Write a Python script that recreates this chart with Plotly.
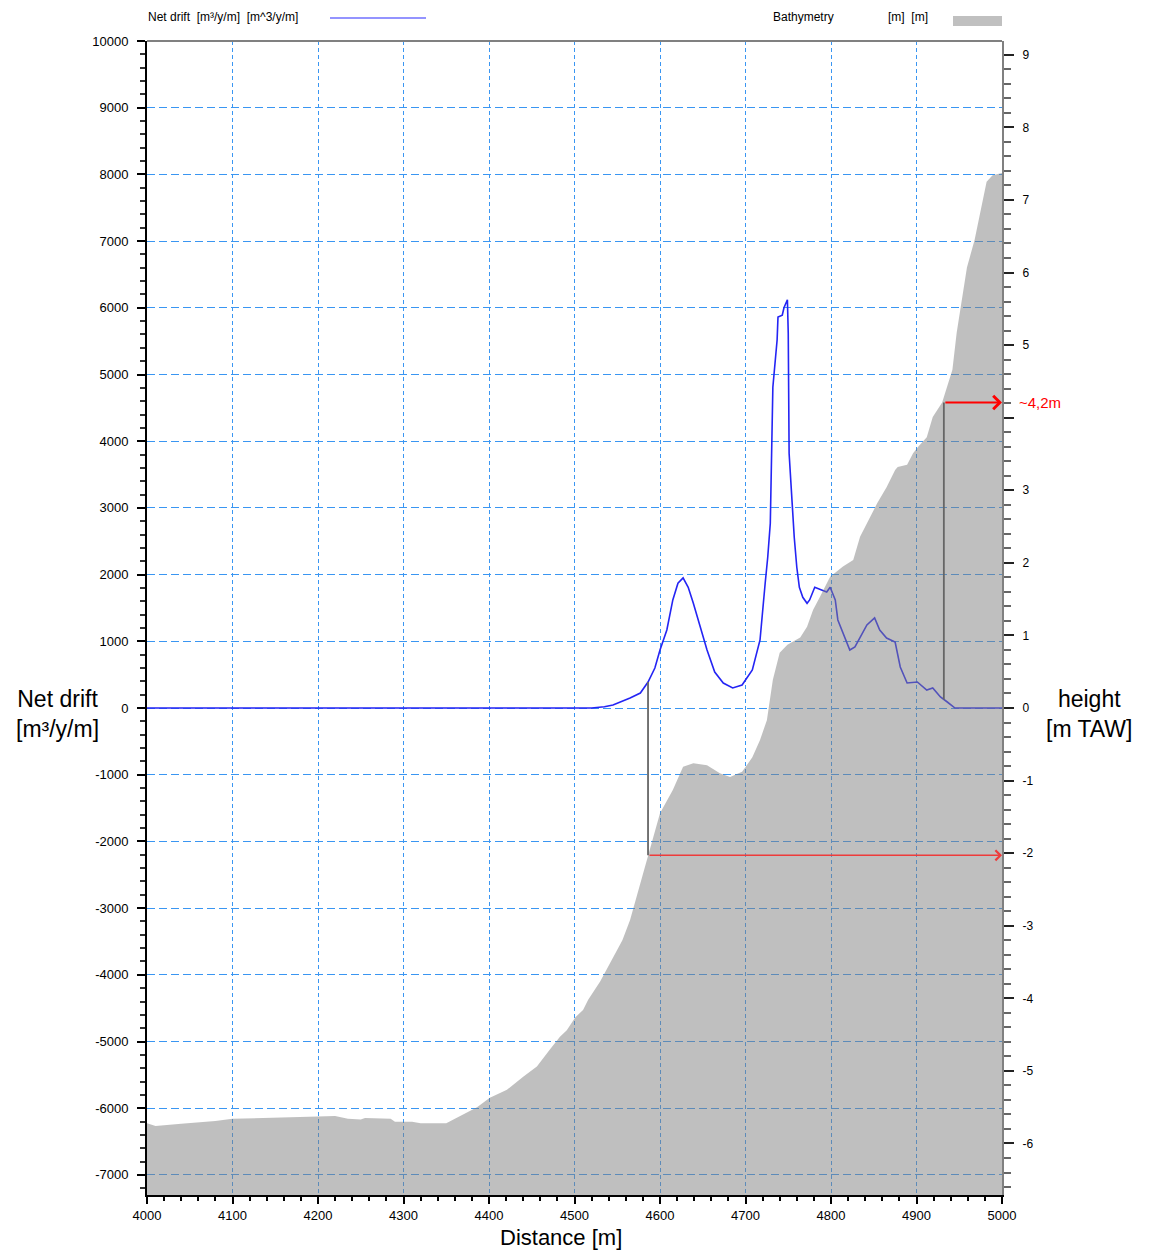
import plotly.graph_objects as go
import numpy as np

# ---------------- data ----------------
bathy_x = [4000, 4010, 4040, 4050, 4080, 4100, 4150, 4200, 4220, 4235,
           4250, 4255, 4285, 4290, 4310, 4320, 4350, 4366, 4386, 4401,
           4421, 4440, 4456, 4471, 4483, 4491, 4501, 4510, 4516, 4530,
           4544, 4556, 4565, 4585, 4600, 4615, 4627, 4639, 4655, 4670,
           4682, 4696, 4708, 4717, 4725, 4732, 4740, 4749, 4764, 4772,
           4779, 4787, 4799, 4814, 4826, 4834, 4846, 4854, 4865, 4875,
           4878, 4889, 4896, 4902, 4912, 4919, 4930, 4942, 4947, 4954,
           4959, 4968, 4978, 4982, 4989, 5000]
bathy_h = [-5.72, -5.76, -5.73, -5.72, -5.69, -5.66, -5.65, -5.63, -5.62, -5.66,
           -5.67, -5.65, -5.66, -5.70, -5.70, -5.72, -5.72, -5.62, -5.50, -5.37,
           -5.26, -5.08, -4.94, -4.71, -4.53, -4.44, -4.26, -4.16, -4.02, -3.77,
           -3.47, -3.20, -2.92, -2.10, -1.45, -1.13, -0.81, -0.76, -0.79, -0.90,
           -0.95, -0.88, -0.68, -0.44, -0.17, 0.39, 0.76, 0.87, 0.97, 1.12,
           1.35, 1.53, 1.81, 1.95, 2.04, 2.36, 2.63, 2.82, 3.04, 3.28,
           3.32, 3.35, 3.51, 3.60, 3.73, 4.01, 4.21, 4.66, 5.17, 5.72,
           6.07, 6.45, 7.00, 7.25, 7.34, 7.37]

drift_x = [4000, 4520, 4535, 4545, 4565, 4577, 4586, 4594, 4600, 4608,
           4615, 4621, 4627, 4633, 4639, 4647, 4655, 4664, 4674, 4685,
           4696, 4708, 4717, 4723, 4726, 4729, 4731, 4732, 4737, 4738,
           4743, 4745, 4749, 4750, 4751, 4754, 4757, 4760, 4763, 4767,
           4772, 4775, 4781, 4789, 4795, 4799, 4805, 4808, 4814, 4822,
           4828, 4834, 4842, 4851, 4857, 4865, 4875, 4881, 4889, 4901,
           4912, 4919, 4928, 4936, 4945, 5000]
drift_v = [0, 0, 20, 45, 150, 225, 390, 600, 870, 1170,
           1620, 1870, 1950, 1810, 1570, 1210, 870, 540, 375, 300,
           345, 570, 1020, 1870, 2260, 2770, 4020, 4810, 5520, 5860,
           5890, 6000, 6120, 5620, 3820, 3120, 2560, 2110, 1810, 1660,
           1570, 1620, 1810, 1770, 1740, 1810, 1620, 1320, 1120, 870,
           915, 1065, 1245, 1350, 1170, 1050, 990, 615, 375, 390,
           270, 300, 165, 90, 0, 0]

# points where drift meets the bathymetry level (marked in the chart)
limit_x = [4586, 4932]
limit_h = [-2.03, 4.21]
limit_label = ["", "~4,2m"]

x_ticks = [4000, 4100, 4200, 4300, 4400, 4500, 4600, 4700, 4800, 4900, 5000]
x_ticktext = [str(v) for v in x_ticks]
drift_ticks = [-7000, -6000, -5000, -4000, -3000, -2000, -1000, 0,
               1000, 2000, 3000, 4000, 5000, 6000, 7000, 8000, 9000, 10000]
drift_ticktext = [str(v) for v in drift_ticks]
height_ticks = [-6, -5, -4, -3, -2, -1, 0, 1, 2, 3, 4, 5, 6, 7, 8, 9]
height_ticktext = ["" if v == 4 else str(v) for v in height_ticks]

# ---------------- layout geometry ----------------
W, H = 1149, 1254
L, R, T, B = 147, 1002, 41, 1195
drift_range = [-7301, 10000]
height_range = [-6.71, 9.19]
h_per_drift = (height_range[1] - height_range[0]) / (drift_range[1] - drift_range[0])


def px_x(px):
    return (px - L) / (R - L)


def px_y(py):
    return (B - py) / (B - T)


FONT = "Liberation Sans, Arial, sans-serif"
GRID = "#3a96f2"

fig = go.Figure()

# bathymetry fill (baseline below the visible range)
floor = height_range[0] - 3
fig.add_trace(go.Scatter(x=bathy_x, y=[floor] * len(bathy_x), yaxis="y2",
                         mode="lines", line=dict(width=0), hoverinfo="skip",
                         showlegend=False))
fig.add_trace(go.Scatter(x=bathy_x, y=bathy_h, yaxis="y2", mode="lines",
                         line=dict(width=0, color="rgba(128,128,128,0.5)"),
                         fill="tonexty", fillcolor="rgba(128,128,128,0.5)",
                         name="Bathymetry", showlegend=False))

# vertical grey marker lines from bathymetry level up to the drift curve
for lx, lh in zip(limit_x, limit_h):
    top = float(np.interp(lx, drift_x, drift_v)) * h_per_drift
    fig.add_trace(go.Scatter(x=[lx, lx], y=[lh, top], yaxis="y2", mode="lines",
                             line=dict(color="#666666", width=1.8),
                             hoverinfo="skip", showlegend=False))

# net drift
fig.add_trace(go.Scatter(x=drift_x, y=drift_v, yaxis="y", mode="lines",
                         line=dict(color="#2424f4", width=1.6),
                         name="Net drift", showlegend=False))

annotations = []
shapes = []

# red arrows towards the height axis
for i, (lx, lh, lab) in enumerate(zip(limit_x, limit_h, limit_label)):
    annotations.append(dict(x=x_ticks[-1], y=lh, xref="x", yref="y2",
                            ax=lx, ay=lh, axref="x", ayref="y2",
                            showarrow=True, arrowhead=4, arrowsize=1.3,
                            arrowwidth=2 if i == 1 else 1.5,
                            arrowcolor="#ff0000" if i == 1 else "#ee3b3b",
                            standoff=0, text=""))
    if lab:
        annotations.append(dict(x=px_x(1017), y=lh, xref="paper", yref="y2",
                                text=lab, showarrow=False, xanchor="left",
                                yanchor="middle",
                                font=dict(family=FONT, size=15, color="#ff0000")))

# axis titles
title_font = dict(family=FONT, size=23, color="black")
annotations += [
    dict(x=px_x(57), y=px_y(714), xref="paper", yref="paper",
         xanchor="center", yanchor="middle",
         text="Net drift<br>[m³/y/m]", showarrow=False, align="center",
         font=title_font),
    dict(x=px_x(1089), y=px_y(714), xref="paper", yref="paper",
         xanchor="center", yanchor="middle",
         text="height<br>[m TAW]", showarrow=False, align="center",
         font=title_font),
    dict(x=px_x(561), y=px_y(1237), xref="paper", yref="paper",
         xanchor="center", yanchor="middle",
         text="Distance [m]", showarrow=False,
         font=dict(family=FONT, size=22, color="black")),
]

# legend-like header
hdr_font = dict(family=FONT, size=12, color="black")
annotations += [
    dict(x=px_x(146), y=px_y(17), xref="paper", yref="paper", xanchor="left",
         yanchor="middle", text="Net drift  [m³/y/m]  [m^3/y/m]",
         showarrow=False, font=hdr_font),
    dict(x=px_x(771), y=px_y(17), xref="paper", yref="paper", xanchor="left",
         yanchor="middle", text="Bathymetry", showarrow=False, font=hdr_font),
    dict(x=px_x(886), y=px_y(17), xref="paper", yref="paper", xanchor="left",
         yanchor="middle", text="[m]  [m]", showarrow=False, font=hdr_font),
]
shapes += [
    dict(type="line", xref="paper", yref="paper", x0=px_x(330), x1=px_x(426),
         y0=px_y(18), y1=px_y(18), line=dict(color="#7070ff", width=1.5)),
    dict(type="rect", xref="paper", yref="paper", x0=px_x(953), x1=px_x(1002),
         y0=px_y(16), y1=px_y(26), fillcolor="#c0c0c0", line=dict(width=0)),
    # top frame
    dict(type="line", xref="paper", yref="paper", x0=0, x1=1, y0=1, y1=1,
         line=dict(color="#808080", width=2)),
]

tickfont = dict(family=FONT, size=13, color="black")

fig.update_layout(
    width=W, height=H, autosize=False,
    margin=dict(l=L, r=W - R, t=T, b=H - B, pad=0),
    paper_bgcolor="white", plot_bgcolor="white",
    showlegend=False,
    annotations=annotations, shapes=shapes,
    xaxis=dict(range=[4000, 5000], tickmode="array", tickvals=x_ticks,
               ticktext=x_ticktext, tickfont=tickfont,
               showline=True, linecolor="black", linewidth=2,
               ticks="outside", ticklen=7, tickwidth=1.5, tickcolor="black",
               minor=dict(dtick=20, tick0=4000, ticklen=4, tickwidth=1.5,
                          tickcolor="black", showgrid=False),
               showgrid=True, gridcolor=GRID, gridwidth=1.3,
               griddash="4px,3px", zeroline=False, ticklabelstandoff=0),
    yaxis=dict(range=drift_range, tickmode="array", tickvals=drift_ticks,
               ticktext=drift_ticktext, tickfont=tickfont,
               showline=True, linecolor="black", linewidth=2,
               ticks="outside", ticklen=8, tickwidth=1.5, tickcolor="black",
               minor=dict(dtick=200, tick0=0, ticklen=5, tickwidth=1.5,
                          tickcolor="#333333", showgrid=False),
               showgrid=True, gridcolor=GRID, gridwidth=1.3,
               griddash="8px,4px", zeroline=False, ticklabelstandoff=6),
    yaxis2=dict(range=height_range, overlaying="y", side="right",
                tickmode="array", tickvals=height_ticks,
                ticktext=height_ticktext,
                tickfont=dict(family=FONT, size=12, color="black"),
                showline=True, linecolor="#808080", linewidth=2,
                ticks="outside", ticklen=10, tickwidth=1.5, tickcolor="#222222",
                minor=dict(dtick=0.2, tick0=0, ticklen=7, tickwidth=1.5,
                           tickcolor="#666666", showgrid=False),
                showgrid=False, zeroline=False, ticklabelstandoff=6),
)

fig.write_html("out.html")
